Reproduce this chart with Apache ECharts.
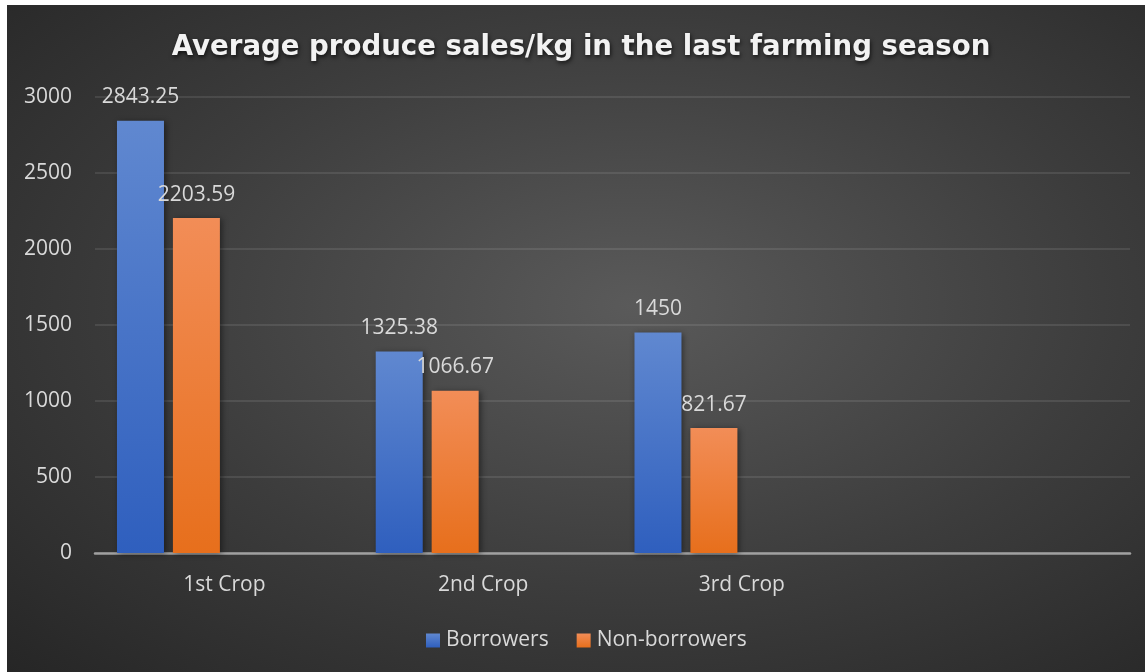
<!DOCTYPE html>
<html>
<head>
<meta charset="utf-8">
<script src="https://cdn.jsdelivr.net/npm/echarts@6/dist/echarts.min.js"></script>
<style>
  html, body { margin: 0; padding: 0; background: #ffffff; width: 1145px; height: 672px; overflow: hidden; }
  #chart {
    position: absolute; left: 7px; top: 5px; width: 1138px; height: 667px;
    background: radial-gradient(ellipse farthest-corner at 55% 45%, #5a5a5a 0%, #3c3c3c 55%, #262626 100%);
  }
</style>
</head>
<body>
<div id="chart"></div>
<script>
const titleText = 'Average produce sales/kg in the last farming season';
const categories = ['1st Crop', '2nd Crop', '3rd Crop', ''];
const borrowers = [2843.25, 1325.38, 1450, null];
const nonBorrowers = [2203.59, 1066.67, 821.67, null];
const emptySeries = [null, null, null, null];
const yTicks = { min: 0, max: 3000, interval: 500 };
const seriesNames = ['Borrowers', 'Non-borrowers'];

const FONT = '"Open Sans", "Noto Sans", sans-serif';
const TXT = '#d9d9d9';
const FS = 21;

function grad(top, bottom) {
  return new echarts.graphic.LinearGradient(0, 0, 0, 1, [
    { offset: 0, color: top }, { offset: 1, color: bottom }
  ]);
}

const labelCfg = {
  show: true, position: 'top', distance: 13,
  color: TXT, fontFamily: FONT, fontSize: FS
};
const barShadow = { shadowBlur: 6, shadowColor: 'rgba(0,0,0,0.45)', shadowOffsetX: 2, shadowOffsetY: 1 };

const chart = echarts.init(document.getElementById('chart'), null, { renderer: 'canvas' });
chart.setOption({
  backgroundColor: 'transparent',
  animation: false,
  title: {
    text: titleText,
    left: 569, top: 24, textAlign: 'center',
    textStyle: {
      fontFamily: '"DejaVu Sans", sans-serif', fontWeight: 'bold', fontSize: 27.6,
      color: '#f2f2f2',
      textShadowColor: 'rgba(0,0,0,0.7)', textShadowBlur: 4, textShadowOffsetX: 1, textShadowOffsetY: 2
    }
  },
  legend: {
    data: seriesNames,
    left: 414, top: 620,
    itemWidth: 14, itemHeight: 14, itemGap: 28,
    icon: 'rect',
    textStyle: { color: TXT, fontFamily: FONT, fontSize: FS, padding: [0, 0, 0, 1] }
  },
  grid: { left: 88, right: 15, top: 92, bottom: 119, containLabel: false },
  xAxis: {
    type: 'category', data: categories,
    axisLine: { lineStyle: { color: '#a0a0a0', width: 2.5 } },
    axisTick: { show: false },
    axisLabel: { color: TXT, fontFamily: FONT, fontSize: FS, margin: 22 }
  },
  yAxis: {
    type: 'value', min: yTicks.min, max: yTicks.max, interval: yTicks.interval,
    axisLine: { show: false }, axisTick: { show: false },
    axisLabel: { color: TXT, fontFamily: FONT, fontSize: FS, margin: 23, formatter: function (v) { return String(v); } },
    splitLine: { lineStyle: { color: 'rgba(255,255,255,0.13)', width: 1.5 } }
  },
  series: [
    { name: seriesNames[0], type: 'bar', data: borrowers, barWidth: 47, barGap: '19%',
      itemStyle: Object.assign({ color: grad('#6088d0', '#2f5fbe') }, barShadow), label: labelCfg },
    { name: seriesNames[1], type: 'bar', data: nonBorrowers, barWidth: 47, barGap: '19%',
      itemStyle: Object.assign({ color: grad('#f28d57', '#e76f1c') }, barShadow), label: labelCfg },
    { name: 'spare1', type: 'bar', data: emptySeries, barWidth: 47, barGap: '19%' },
    { name: 'spare2', type: 'bar', data: emptySeries, barWidth: 47, barGap: '19%' }
  ]
});
</script>
</body>
</html>
